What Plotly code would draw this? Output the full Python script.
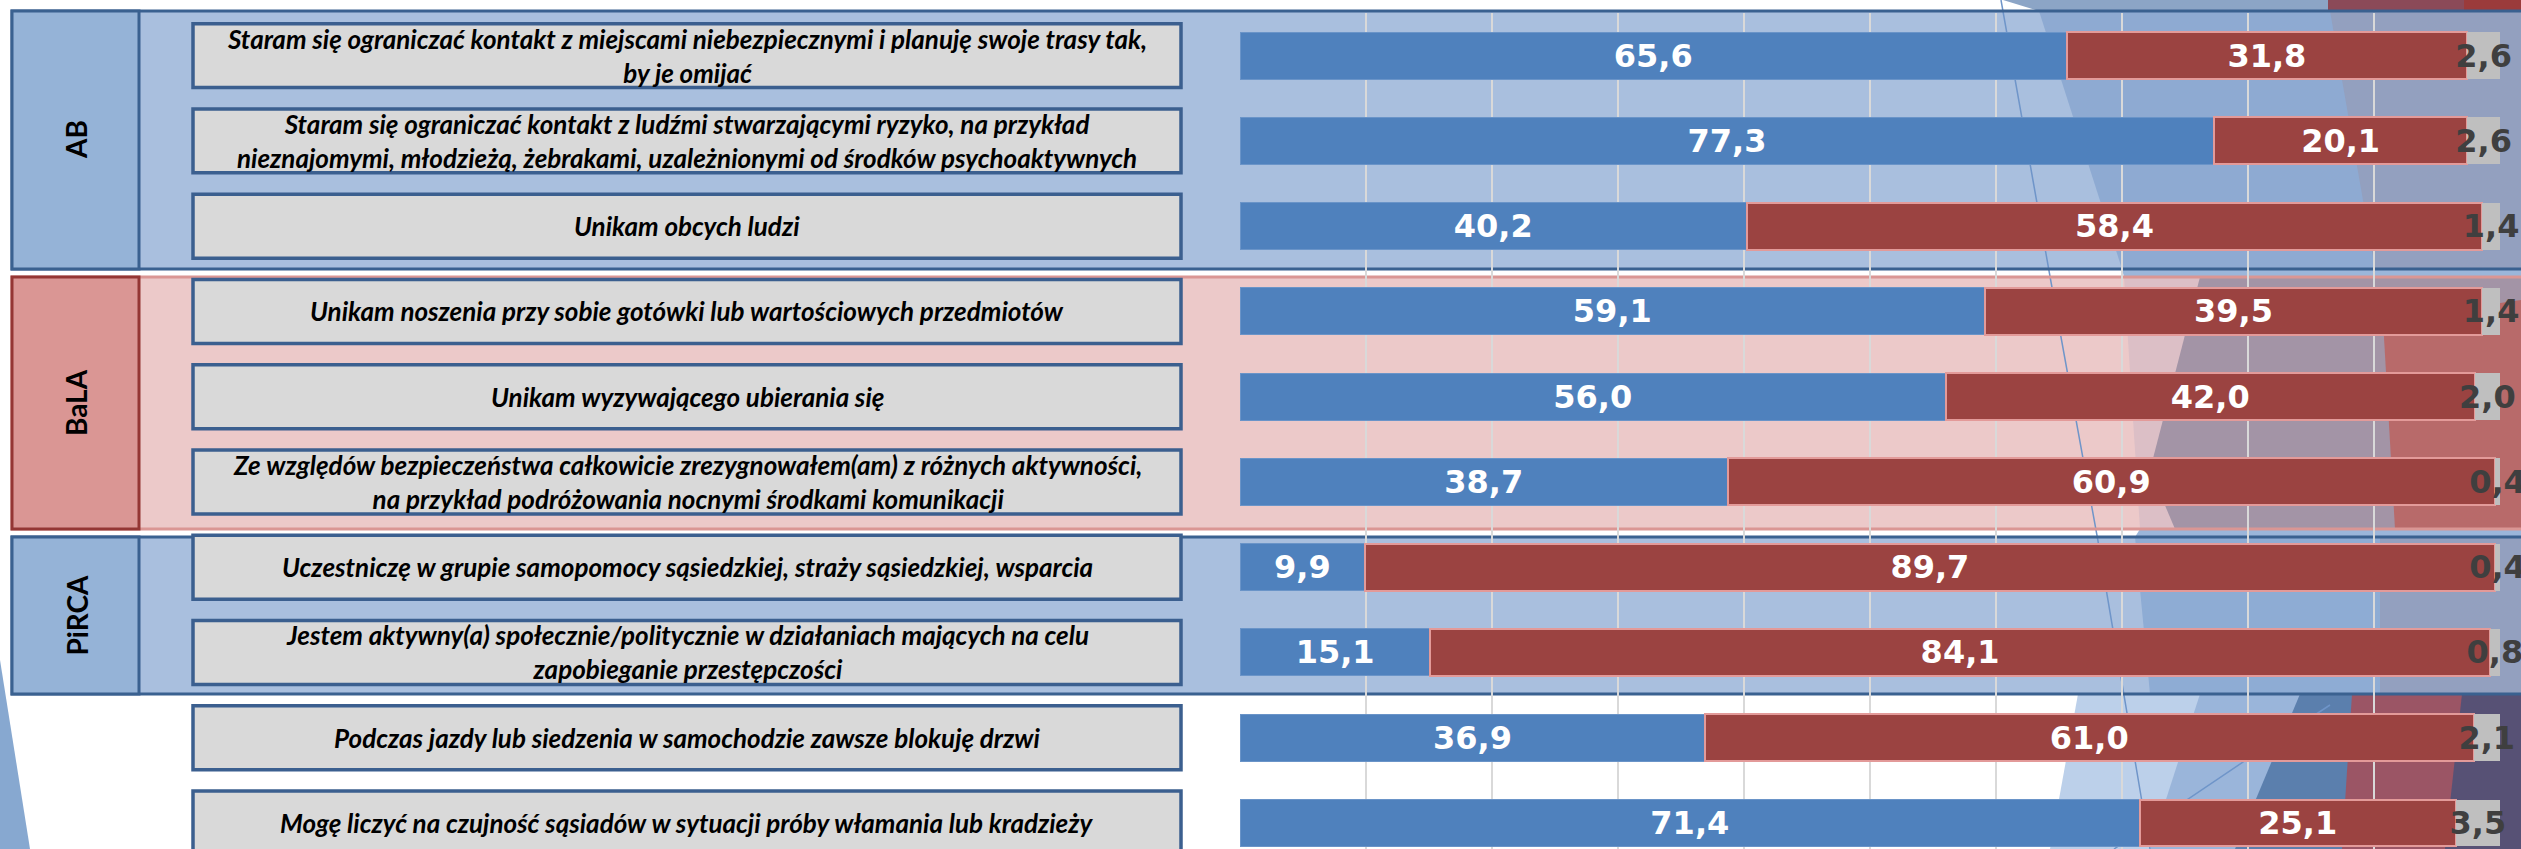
import plotly.graph_objects as go

# ---------------- data ----------------
statements = [
    "Staram się ograniczać kontakt z miejscami niebezpiecznymi i planuję swoje trasy tak,<br>by je omijać",
    "Staram się ograniczać kontakt z ludźmi stwarzającymi ryzyko, na przykład<br>nieznajomymi, młodzieżą, żebrakami, uzależnionymi od środków psychoaktywnych",
    "Unikam obcych ludzi",
    "Unikam noszenia przy sobie gotówki lub wartościowych przedmiotów",
    "Unikam wyzywającego ubierania się",
    "Ze względów bezpieczeństwa całkowicie zrezygnowałem(am) z różnych aktywności,<br>na przykład podróżowania nocnymi środkami komunikacji",
    "Uczestniczę w grupie samopomocy sąsiedzkiej, straży sąsiedzkiej, wsparcia",
    "Jestem aktywny(a) społecznie/politycznie w działaniach mających na celu<br>zapobieganie przestępczości",
    "Podczas jazdy lub siedzenia w samochodzie zawsze blokuję drzwi",
    "Mogę liczyć na czujność sąsiadów w sytuacji próby włamania lub kradzieży",
]
tak = [65.6, 77.3, 40.2, 59.1, 56.0, 38.7, 9.9, 15.1, 36.9, 71.4]
nie = [31.8, 20.1, 58.4, 39.5, 42.0, 60.9, 89.7, 84.1, 61.0, 25.1]
brak = [2.6, 2.6, 1.4, 1.4, 2.0, 0.4, 0.4, 0.8, 2.1, 3.5]

groups = ["AB", "BaLA", "PiRCA"]

# ---------------- geometry helpers ----------------
W, H = 2521, 849


def px(x):
    return x / W


def py(y):
    return 1 - y / H


def fmt(v):
    return f"{v:.1f}".replace(".", ",")


BLUE = "#4f81bd"
RED = "#9b4341"
GRAY = "#bfbfbf"

fig = go.Figure()
bar_common = dict(orientation="h", textposition="inside", insidetextanchor="middle",
                  textangle=0, constraintext="none", cliponaxis=False, showlegend=False)
fig.add_trace(go.Bar(name="Tak", y=statements, x=tak, text=[fmt(v) for v in tak],
                     marker=dict(color=BLUE, line=dict(color="#6a94c8", width=1)),
                     textfont=dict(family="DejaVu Sans", size=32, color="white", weight="bold"),
                     **bar_common))
fig.add_trace(go.Bar(name="Nie", y=statements, x=nie, text=[fmt(v) for v in nie],
                     marker=dict(color=RED, line=dict(color="#e39a99", width=2)),
                     textfont=dict(family="DejaVu Sans", size=32, color="white", weight="bold"),
                     **bar_common))
fig.add_trace(go.Bar(name="Brak odpowiedzi", y=statements, x=brak, text=[fmt(v) for v in brak],
                     marker=dict(color=GRAY, line=dict(width=0)),
                     textfont=dict(family="DejaVu Sans", size=32, color="#3f3f3f", weight="bold"),
                     **bar_common))

shapes = []


def rect(x0, y0, x1, y1, fill=None, line=None, lw=0, layer="below"):
    shapes.append(dict(type="rect", xref="paper", yref="paper",
                       x0=px(x0), x1=px(x1), y0=py(y1), y1=py(y0),
                       fillcolor=fill if fill else "rgba(0,0,0,0)",
                       line=dict(color=line if line else "rgba(0,0,0,0)", width=lw),
                       layer=layer))


def poly(pts, fill, layer="below"):
    path = "M " + " L ".join(f"{px(x)},{py(y)}" for x, y in pts) + " Z"
    shapes.append(dict(type="path", xref="paper", yref="paper", path=path,
                       fillcolor=fill, line=dict(width=0), layer=layer))


def polyline(pts, color, w):
    path = "M " + " L ".join(f"{px(x)},{py(y)}" for x, y in pts)
    shapes.append(dict(type="path", xref="paper", yref="paper", path=path,
                       line=dict(color=color, width=w), layer="below"))


# group frames: (top, bottom, fill, left-box fill, outer border, left-box border)
frames = [(11, 269, "#a9bfde", "#95b3d7", "#3a6190", "#3a6190"),
          (277, 529, "#ecc9c9", "#da9694", "#da9694", "#943634"),
          (537, 694, "#a9bfde", "#95b3d7", "#3a6190", "#3a6190")]
for y0, y1, fill, lfill, bcol, lcol in frames:
    rect(12, y0, 2530, y1, fill=fill)

# left decoration
poly([(0, 660), (30, 849), (0, 849)], "#87a8d0")

# right decoration facets
poly([(2003, 0), (2328, 0), (2328, 11), (2039, 11)], "#8ca5c6")
poly([(2328, 0), (2464, 0), (2464, 11), (2328, 11)], "#8b4a58")
poly([(2464, 0), (2521, 0), (2521, 11), (2464, 11)], "#9b3b3b")
# AB band
poly([(2039, 11), (2521, 11), (2521, 269), (2122, 269)], "#8eaad2")
poly([(2330, 11), (2521, 11), (2521, 269), (2375, 269)], "#93a0bf")
# between bands
poly([(2122, 269), (2521, 269), (2521, 277), (2124, 277)], "#9bb6da")
poly([(2140, 529), (2521, 529), (2521, 537), (2135, 537)], "#9bb6da")
# BaLA band
poly([(2124, 277), (2521, 277), (2521, 529), (2140, 529)], "#dcbfc6")
poly([(2200, 277), (2521, 277), (2521, 529), (2175, 529), (2150, 470)], "#a394a6")
poly([(2383, 320), (2521, 300), (2521, 529), (2395, 529)], "#b86a6a")
# PiRCA band
poly([(2135, 537), (2521, 537), (2521, 694), (2150, 694)], "#8eacd4")
poly([(2380, 537), (2521, 537), (2521, 694), (2380, 694)], "#93a0bf")
# bottom (white) band
poly([(2078, 694), (2521, 694), (2521, 849), (2050, 849)], "#bcd0ea")
poly([(2200, 694), (2521, 694), (2521, 849), (2150, 849)], "#9ab5da")
poly([(2300, 694), (2521, 694), (2521, 849), (2235, 849)], "#5b7fad")
poly([(2352, 694), (2521, 694), (2521, 849), (2342, 849)], "#9b5565")
poly([(2462, 694), (2521, 694), (2521, 849), (2445, 849)], "#575175")
# thin decorative lines
polyline([(2001, 0), (2051, 282), (2098, 541), (2141, 796), (2150, 849)], "#6f95c9", 1.5)
polyline([(2114, 849), (2249, 758), (2330, 705)], "#6f95c9", 1.5)

# frame outlines
for y0, y1, fill, lfill, bcol, lcol in frames:
    rect(12, y0, 2530, y1, line=bcol, lw=3)
for y0, y1, fill, lfill, bcol, lcol in frames:
    rect(12, y0, 139, y1, fill=lfill, line=lcol, lw=3)

# statement boxes (tied to categories)
for i, s in enumerate(statements):
    shapes.append(dict(type="rect", xref="paper", yref="y",
                       x0=px(193), x1=px(1181), y0=i - 0.375, y1=i + 0.375,
                       fillcolor="#d9d9d9", line=dict(color="#3b5f8f", width=3.5),
                       layer="above"))

annotations = []
for i, s in enumerate(statements):
    annotations.append(dict(xref="paper", yref="y", x=px(687), y=i, text=s,
                            showarrow=False, align="center", xanchor="center", yanchor="middle",
                            font=dict(family="Lato", size=26, color="black",
                                      weight="bold", style="italic")))
for g, (y0, y1, *_rest) in zip(groups, frames):
    annotations.append(dict(xref="paper", yref="paper", x=px(76), y=py((y0 + y1) / 2),
                            text=g, showarrow=False, textangle=-90,
                            xanchor="center", yanchor="middle",
                            font=dict(family="Lato", size=28, color="black", weight="bold")))

fig.update_layout(
    barmode="stack",
    bargap=0.449,
    width=W, height=H,
    margin=dict(l=0, r=0, t=0, b=0),
    paper_bgcolor="white",
    plot_bgcolor="rgba(0,0,0,0)",
    shapes=shapes,
    annotations=annotations,
    xaxis=dict(domain=[px(1240), px(2500)], range=[0, 100.001], dtick=10,
               showgrid=True, gridcolor="#d9d9d9", gridwidth=2,
               zeroline=False, showticklabels=False, ticks="", showline=False),
    yaxis=dict(domain=[0, py(13)], range=[9.305, -0.5], type="category",
               categoryorder="array", categoryarray=statements,
               showgrid=False, showticklabels=False, ticks="", zeroline=False),
)

fig.write_html("out.html", config={"displayModeBar": False},
               post_script="document.body.style.margin='0px';document.body.style.overflow='hidden';")
